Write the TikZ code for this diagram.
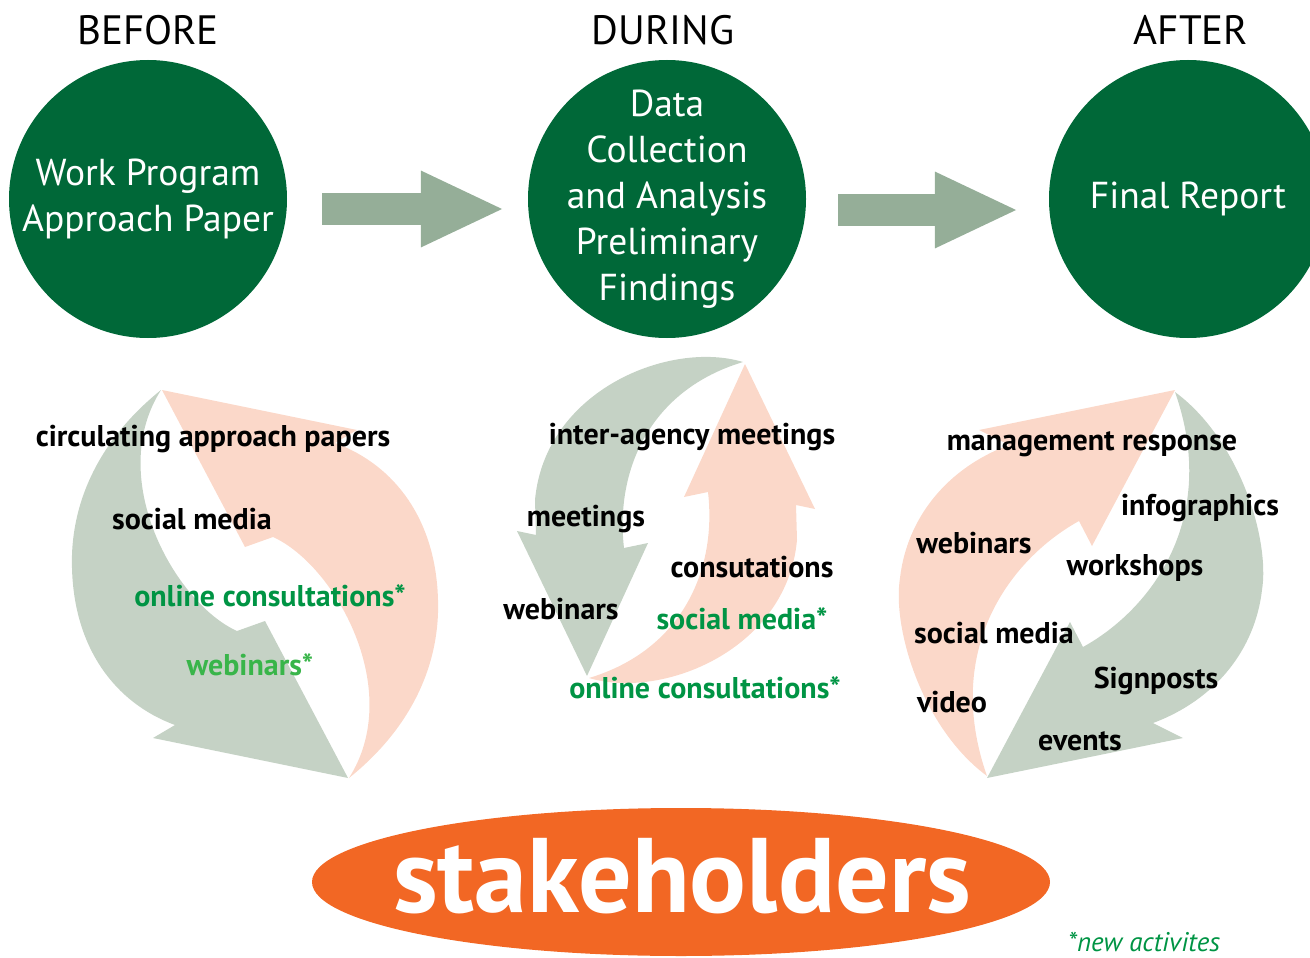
\documentclass[tikz,border=0pt]{standalone}
\usepackage{fontspec}
\setmainfont{PT Sans}
\usetikzlibrary{shapes.geometric,arrows.meta}

\definecolor{phasegreen}{RGB}{0,104,56}
\definecolor{flowgray}{RGB}{149,174,152}
\definecolor{sage}{RGB}{197,210,197}
\definecolor{peach}{RGB}{251,216,201}
\definecolor{stakeorange}{RGB}{242,103,36}
\definecolor{newgreen}{RGB}{0,148,68}
\definecolor{lightgreen}{RGB}{57,181,74}

\tikzset{
  phase/.style={circle, fill=phasegreen, text=white, minimum size=278pt, inner sep=-15pt, align=center, font=\fontsize{37.5}{46}\selectfont},
  heading/.style={anchor=base, font=\fontsize{41}{46}\selectfont},
  activity/.style={anchor=base, inner sep=0pt, font=\bfseries\fontsize{30}{34}\selectfont},
  newactivity/.style={activity, text=newgreen},
  flow/.style={draw=flowgray, line width=32pt, -{Triangle[length=84pt, width=70pt]}},
}

\begin{document}
\begin{tikzpicture}[x=1pt, y=-1pt]
\clip (0,0) rectangle (1310,958);

% phases
\node[heading] (hbefore) at (148,45) {BEFORE};
\node[heading] (hduring) at (663,45) {DURING};
\node[heading] (hafter) at (1191,45) {AFTER};

\node[phase] (before) at (148,199) {Work Program\\Approach Paper};
\node[phase] (during) at (667,199) {Data\\Collection\\and Analysis\\Preliminary\\Findings};
\node[phase] (after) at (1188,199) {Final Report};

\draw[flow, shorten <=35pt, shorten >=23pt] ([yshift=-10pt]before.east) -- ([yshift=-10pt]during.west);
\draw[flow, shorten <=32pt, shorten >=30pt] ([yshift=-11pt]during.east) -- ([yshift=-11pt]after.west);

% before cycle
\fill[peach] (349,778) .. controls (415,725) and (440,660) .. (438,600)
  .. controls (436,520) and (395,465) .. (335,443) -- (357,430) -- (162,390)
  -- (245,547) -- (273,537) .. controls (335,565) and (405,690) .. (349,778) -- cycle;
\begin{scope}[rotate around={180:(255,584)}]
\fill[sage] (349,778) .. controls (415,725) and (440,660) .. (438,600)
  .. controls (436,520) and (395,465) .. (335,443) -- (357,430) -- (162,390)
  -- (245,547) -- (273,537) .. controls (335,565) and (405,690) .. (349,778) -- cycle;
\end{scope}

% during cycle
\fill[sage] (743,362) .. controls (670,340) and (545,390) .. (535,500) -- (536,535)
  -- (517,531) -- (587,676) -- (648,543) -- (624,548)
  .. controls (615,470) and (650,390) .. (743,362) -- cycle;
\begin{scope}[rotate around={180:(666,520)}]
\fill[peach] (743,362) .. controls (670,340) and (545,390) .. (535,500) -- (536,535)
  -- (517,531) -- (587,676) -- (648,543) -- (624,548)
  .. controls (615,470) and (650,390) .. (743,362) -- cycle;
\end{scope}

% after cycle
\fill[sage] (1175,392) .. controls (1240,440) and (1270,540) .. (1262,590)
  .. controls (1255,650) and (1215,700) .. (1153,723) -- (1183,738) -- (987,778)
  -- (1070,622) -- (1083,647) .. controls (1150,610) and (1220,520) .. (1175,392) -- cycle;
\begin{scope}[rotate around={180:(1081,584)}]
\fill[peach] (1175,392) .. controls (1240,440) and (1270,540) .. (1262,590)
  .. controls (1255,650) and (1215,700) .. (1153,723) -- (1183,738) -- (987,778)
  -- (1070,622) -- (1083,647) .. controls (1150,610) and (1220,520) .. (1175,392) -- cycle;
\end{scope}

% activities
\node[activity] (b1) at (213,446) {circulating approach papers};
\node[activity] (b2) at (192,529) {social media};
\node[newactivity] (b3) at (270,606) {online consultations*};
\node[newactivity, text=lightgreen] (b4) at (250,675) {webinars*};

\node[activity] (d1) at (692,444) {inter-agency meetings};
\node[activity] (d2) at (586,526) {meetings};
\node[activity] (d3) at (752,577) {consutations};
\node[activity] (d4) at (561,619) {webinars};
\node[newactivity] (d5) at (742,629) {social media*};
\node[newactivity] (d6) at (705,698) {online consultations*};

\node[activity] (a1) at (1092,450) {management response};
\node[activity] (a2) at (1200,515) {infographics};
\node[activity] (a3) at (974,553) {webinars};
\node[activity] (a4) at (1135,575) {workshops};
\node[activity] (a5) at (994,643) {social media};
\node[activity] (a6) at (1156,688) {Signposts};
\node[activity] (a7) at (952,712) {video};
\node[activity] (a8) at (1080,750) {events};

% stakeholders
\node[ellipse, fill=stakeorange, minimum width=738pt, minimum height=148pt] (stake) at (681,882) {};
\node[anchor=base, text=white, font=\bfseries\fontsize{106}{112}\selectfont] (stakelabel) at (682,912) {stakeholders};
\node[anchor=base, text=newgreen, font=\itshape\fontsize{27}{30}\selectfont] (note) at (1144,951) {*new activites};
\end{tikzpicture}
\end{document}
